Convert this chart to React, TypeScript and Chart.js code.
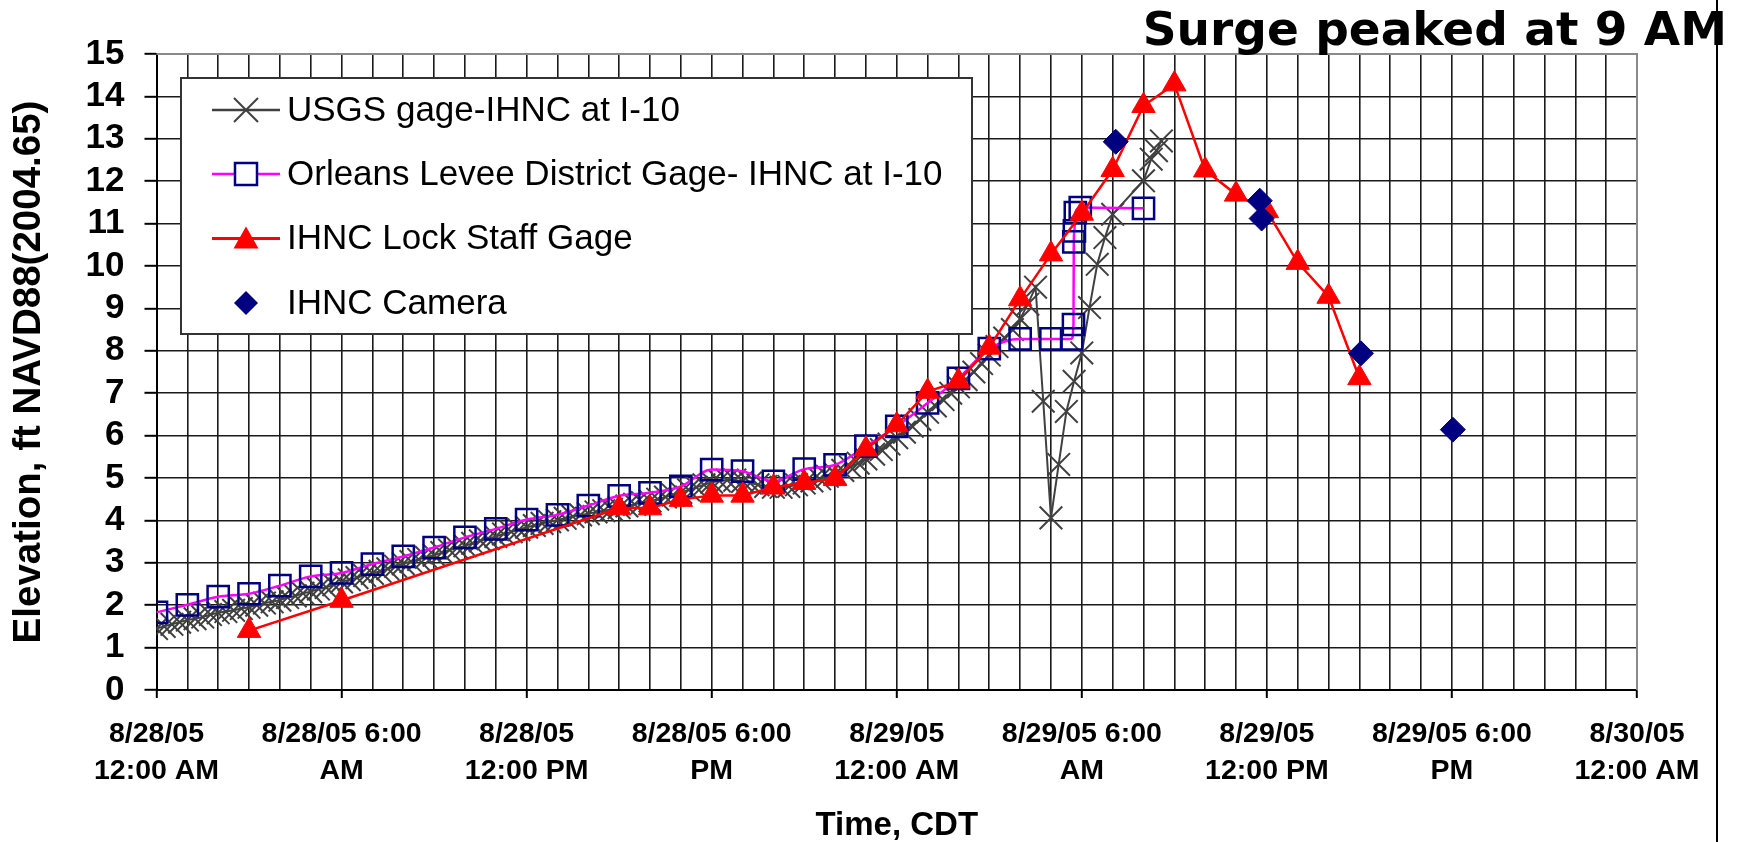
import React, { useEffect, useRef } from 'react';
import { Chart, registerables } from 'chart.js';

Chart.register(...registerables);

const W = 1744;
const H = 842;

const CHART_TITLE = 'Surge peaked at 9 AM';
const X_TITLE = 'Time, CDT';
const Y_TITLE = 'Elevation, ft NAVD88(2004.65)';
const SERIES_NAMES = [
  'USGS gage-IHNC at I-10',
  'Orleans Levee District Gage- IHNC at I-10',
  'IHNC Lock Staff Gage',
  'IHNC Camera',
];

// x axis is hours since 8/28/05 12:00 AM
const X_TICK_HOURS = [0, 6, 12, 18, 24, 30, 36, 42, 48];
const X_TICK_LABELS = [
  ['8/28/05', '12:00 AM'],
  ['8/28/05 6:00', 'AM'],
  ['8/28/05', '12:00 PM'],
  ['8/28/05 6:00', 'PM'],
  ['8/29/05', '12:00 AM'],
  ['8/29/05 6:00', 'AM'],
  ['8/29/05', '12:00 PM'],
  ['8/29/05 6:00', 'PM'],
  ['8/30/05', '12:00 AM'],
];

// USGS gage, read every 15 minutes from 0 h to 28.5 h
const USGS_STEP_HOURS = 0.25;
const USGS_15MIN = [
  1.45, 1.50, 1.55, 1.60,
  1.65, 1.68, 1.72, 1.78,
  1.82, 1.85, 1.88, 1.92,
  1.95, 2.00, 2.05, 2.08,
  2.12, 2.18, 2.22, 2.28,
  2.32, 2.38, 2.42, 2.48,
  2.55, 2.60, 2.65, 2.70,
  2.75, 2.80, 2.86, 2.92,
  2.98, 3.03, 3.08, 3.13,
  3.18, 3.24, 3.30, 3.35,
  3.40, 3.46, 3.52, 3.57,
  3.62, 3.68, 3.73, 3.78,
  3.84, 3.88, 3.93, 3.97,
  4.01, 4.05, 4.09, 4.13,
  4.16, 4.20, 4.23, 4.26,
  4.30, 4.34, 4.38, 4.42,
  4.46, 4.50, 4.55, 4.60,
  4.66, 4.72, 4.78, 4.84,
  4.90, 4.93, 4.95, 4.95,
  4.92, 4.88, 4.84, 4.80,
  4.78, 4.78, 4.80, 4.84,
  4.88, 4.93, 4.98, 5.04,
  5.10, 5.18, 5.26, 5.35,
  5.45, 5.56, 5.67, 5.80,
  5.95, 6.08, 6.22, 6.38,
  6.55, 6.70, 6.85, 7.00,
  7.15, 7.32, 7.50, 7.70,
  7.90, 8.10, 8.30, 8.50,
  8.75, 9.10, 9.50,
];
const USGS_LATE_HOURS = [28.75, 29, 29.25, 29.5, 29.75, 30, 30.25, 30.5, 30.75, 31, 32, 32.25, 32.42, 32.58];
const USGS_LATE_VALUES = [6.81, 4.06, 5.32, 6.57, 7.28, 7.95, 9.02, 10.04, 10.67, 11.22, 12.01, 12.52, 12.72, 12.95];

const ORLEANS_HOURS = [
  0, 1, 2, 3, 4, 5, 6, 7, 8, 9, 10, 11, 12, 13, 14, 15, 16, 17, 18, 19, 20, 21, 22, 23, 24, 25, 26, 27, 28, 29,
  29.67, 29.73, 29.74, 29.76, 29.79, 29.95, 32,
];
const ORLEANS_VALUES = [
  1.83, 2.01, 2.20, 2.27, 2.46, 2.68, 2.76, 2.97, 3.15, 3.36, 3.60, 3.80, 4.02, 4.13, 4.35, 4.58, 4.65, 4.80,
  5.20, 5.16, 4.92, 5.21, 5.31, 5.75, 6.22, 6.77, 7.35, 8.05, 8.28, 8.28,
  8.28, 8.62, 10.57, 10.83, 11.26, 11.38, 11.36,
];

const LOCK_HOURS = [3, 6, 15, 16, 17, 18, 19, 20, 21, 22, 23, 24, 25, 26, 27, 28, 29, 30, 31, 32, 33, 34, 35, 36, 37, 38, 39];
const LOCK_VALUES = [
  1.40, 2.11, 4.29, 4.29, 4.49, 4.59, 4.59, 4.78, 4.89, 4.98, 5.68, 6.25, 7.04, 7.28, 8.08, 9.22, 10.28, 11.24,
  12.27, 13.78, 14.29, 12.26, 11.69, 11.30, 10.08, 9.28, 7.36,
];

const CAMERA_HOURS = [31.1, 35.77, 35.83, 39.05, 42.03];
const CAMERA_VALUES = [12.93, 11.54, 11.12, 7.94, 6.14];

const FONT = '"Liberation Sans", Arial, sans-serif';

const usgsPoints = [
  ...USGS_15MIN.map((v, i) => ({ x: i * USGS_STEP_HOURS, y: v })),
  ...USGS_LATE_HOURS.map((h, i) => ({ x: h, y: USGS_LATE_VALUES[i] })),
];
const orleansPoints = ORLEANS_HOURS.map((h, i) => ({ x: h, y: ORLEANS_VALUES[i] }));
const lockPoints = LOCK_HOURS.map((h, i) => ({ x: h, y: LOCK_VALUES[i] }));
const cameraPoints = CAMERA_HOURS.map((h, i) => ({ x: h, y: CAMERA_VALUES[i] }));

const C_USGS = '#404040';
const C_ORLEANS_LINE = '#ff00ff';
const C_NAVY = '#000080';
const C_RED = '#ff0000';

function drawMarker(ctx: CanvasRenderingContext2D, kind: string, x: number, y: number) {
  ctx.save();
  if (kind === 'x') {
    const d = 12;
    ctx.strokeStyle = C_USGS;
    ctx.lineWidth = 2;
    ctx.beginPath();
    ctx.moveTo(x - d, y - d); ctx.lineTo(x + d, y + d);
    ctx.moveTo(x - d, y + d); ctx.lineTo(x + d, y - d);
    ctx.stroke();
  } else if (kind === 'square') {
    ctx.strokeStyle = C_NAVY;
    ctx.lineWidth = 2.5;
    ctx.fillStyle = '#fff';
    ctx.fillRect(x - 11, y - 11, 22, 22);
    ctx.strokeRect(x - 11, y - 11, 22, 22);
  } else if (kind === 'triangle') {
    ctx.fillStyle = C_RED;
    ctx.beginPath();
    ctx.moveTo(x, y - 12);
    ctx.lineTo(x + 12.5, y + 10);
    ctx.lineTo(x - 12.5, y + 10);
    ctx.closePath();
    ctx.fill();
  } else if (kind === 'diamond') {
    ctx.fillStyle = C_NAVY;
    ctx.beginPath();
    ctx.moveTo(x, y - 12); ctx.lineTo(x + 12, y); ctx.lineTo(x, y + 12); ctx.lineTo(x - 12, y);
    ctx.closePath();
    ctx.fill();
  }
  ctx.restore();
}

const legendPlugin = {
  id: 'boxLegend',
  afterDraw(chart: any) {
    const ctx: CanvasRenderingContext2D = chart.ctx;
    ctx.save();
    const bx = 181, by = 78, bw = 791, bh = 256;
    ctx.fillStyle = '#fff';
    ctx.fillRect(bx, by, bw, bh);
    ctx.strokeStyle = '#333';
    ctx.lineWidth = 2;
    ctx.strokeRect(bx, by, bw, bh);
    const rows = [110, 174, 238.5, 303];
    const lines = [C_USGS, C_ORLEANS_LINE, C_RED, null];
    const widths = [2.5, 2.5, 3, 0];
    const kinds = ['x', 'square', 'triangle', 'diamond'];
    SERIES_NAMES.forEach((name, i) => {
      const y = rows[i];
      if (lines[i]) {
        ctx.strokeStyle = lines[i] as string;
        ctx.lineWidth = widths[i];
        ctx.beginPath();
        ctx.moveTo(212, y);
        ctx.lineTo(280, y);
        ctx.stroke();
      }
      drawMarker(ctx, kinds[i], 246, y);
      ctx.fillStyle = '#000';
      ctx.font = `35px ${FONT}`;
      ctx.textBaseline = 'middle';
      ctx.textAlign = 'left';
      ctx.fillText(name, 287, y + 1);
    });
    ctx.restore();
  },
};

const framePlugin = {
  id: 'frame',
  afterDraw(chart: any) {
    const ctx: CanvasRenderingContext2D = chart.ctx;
    const a = chart.chartArea;
    ctx.save();
    ctx.strokeStyle = '#8a8a8a';
    ctx.lineWidth = 2;
    ctx.beginPath();
    ctx.moveTo(a.left, a.top);
    ctx.lineTo(a.right, a.top);
    ctx.lineTo(a.right, a.bottom);
    ctx.stroke();
    ctx.strokeStyle = '#000';
    ctx.lineWidth = 2;
    ctx.beginPath();
    ctx.moveTo(1717, 0);
    ctx.lineTo(1717, H);
    ctx.stroke();
    ctx.fillStyle = '#000';
    ctx.font = 'bold 47px "DejaVu Sans", Verdana, sans-serif';
    ctx.textAlign = 'right';
    ctx.textBaseline = 'alphabetic';
    ctx.fillText(CHART_TITLE, 1727, 45);
    ctx.restore();
  },
};

export default function App() {
  const ref = useRef<HTMLCanvasElement>(null);
  useEffect(() => {
    const canvas = ref.current;
    if (!canvas) return;
    const chart = new Chart(canvas, {
      type: 'line',
      data: {
        datasets: [
          {
            label: SERIES_NAMES[3],
            data: cameraPoints,
            showLine: false,
            pointStyle: 'rectRot',
            pointRadius: 12.5,
            pointBackgroundColor: C_NAVY,
            pointBorderColor: C_NAVY,
            pointBorderWidth: 1,
            borderColor: C_NAVY,
            order: 0,
          },
          {
            label: SERIES_NAMES[2],
            data: lockPoints,
            borderColor: C_RED,
            borderWidth: 2.5,
            tension: 0,
            pointStyle: 'triangle',
            pointRadius: 13.5,
            pointBackgroundColor: C_RED,
            pointBorderColor: C_RED,
            pointBorderWidth: 1,
            order: 1,
          },
          {
            label: SERIES_NAMES[1],
            data: orleansPoints,
            borderColor: C_ORLEANS_LINE,
            borderWidth: 2.5,
            cubicInterpolationMode: 'monotone',
            pointStyle: 'rect',
            pointRadius: 15,
            pointBackgroundColor: 'rgba(0,0,0,0)',
            pointBorderColor: C_NAVY,
            pointBorderWidth: 2.5,
            order: 2,
          },
          {
            label: SERIES_NAMES[0],
            data: usgsPoints,
            borderColor: C_USGS,
            borderWidth: 2,
            tension: 0,
            pointStyle: 'crossRot',
            pointRadius: 16,
            pointBorderColor: C_USGS,
            pointBorderWidth: 2,
            order: 3,
          },
        ],
      },
      options: {
        responsive: false,
        animation: false,
        events: [],
        layout: { padding: { left: 0, top: 54, right: 107, bottom: 0 } },
        plugins: {
          legend: { display: false },
          tooltip: { enabled: false },
          title: { display: false },
        },
        scales: {
          x: {
            type: 'linear',
            min: 0,
            max: 48,
            afterFit: (s: any) => {
              s.height = 152;
              s.paddingLeft = 0;
              s.paddingRight = 0;
            },
            ticks: {
              stepSize: 1,
              autoSkip: false,
              maxRotation: 0,
              minRotation: 0,
              padding: 18,
              color: '#000',
              font: { family: FONT, size: 28.5, weight: 'bold', lineHeight: 1.3 },
              callback: (v: any) => {
                const i = X_TICK_HOURS.indexOf(Number(v));
                return i >= 0 ? X_TICK_LABELS[i] : '';
              },
            },
            grid: {
              color: '#1a1a1a',
              lineWidth: 1.6,
              tickLength: 8,
              tickWidth: 2,
              tickColor: (c: any) =>
                c.tick && X_TICK_HOURS.indexOf(Number(c.tick.value)) >= 0 ? '#000' : 'rgba(0,0,0,0)',
            },
            border: { color: '#000', width: 2 },
            title: {
              display: true,
              text: X_TITLE,
              color: '#000',
              padding: 0,
              font: { family: FONT, size: 33, weight: 'bold', lineHeight: 0.95 },
            },
          },
          y: {
            min: 0,
            max: 15,
            afterFit: (s: any) => {
              s.width = 156.5;
              s.paddingTop = 0;
              s.paddingBottom = 0;
            },
            ticks: {
              stepSize: 1,
              autoSkip: false,
              padding: 20,
              color: '#000',
              font: { family: FONT, size: 35, weight: 'bold' },
            },
            grid: {
              color: '#1a1a1a',
              lineWidth: 1.6,
              tickLength: 12,
              tickWidth: 2,
              tickColor: '#000',
            },
            border: { color: '#000', width: 2 },
            title: {
              display: true,
              text: Y_TITLE,
              color: '#000',
              padding: { top: 6, bottom: 0 },
              font: { family: FONT, size: 38.5, weight: 'bold' },
            },
          },
        },
      },
      plugins: [framePlugin, legendPlugin],
    } as any);
    return () => chart.destroy();
  }, []);

  return (
    <div style={{ position: 'fixed', left: 0, top: 0, width: W, height: H, background: '#fff' }}>
      <canvas ref={ref} width={W} height={H} style={{ display: 'block', width: W, height: H }} />
    </div>
  );
}
